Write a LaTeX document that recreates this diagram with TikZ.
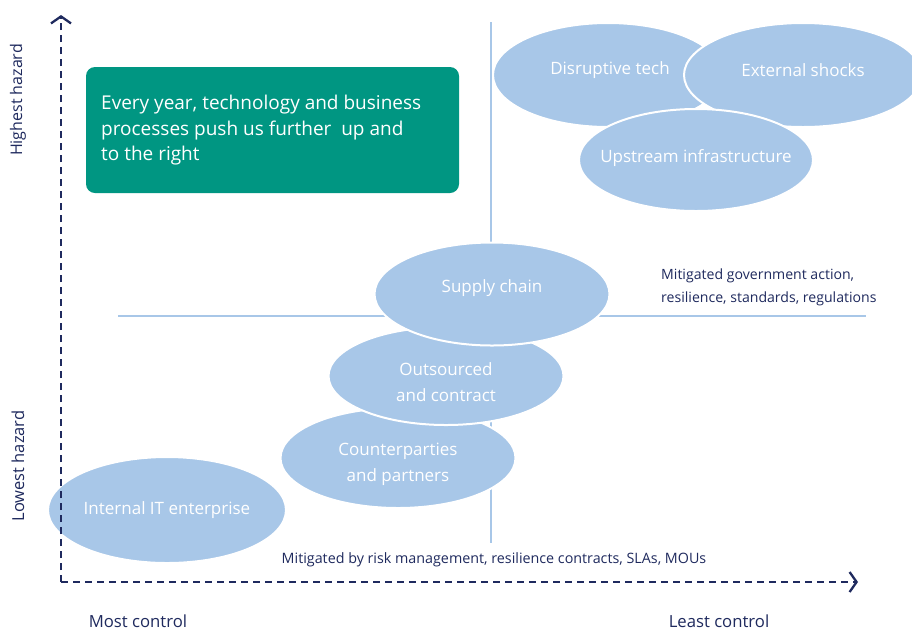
\documentclass[tikz,border=0pt]{standalone}
\usepackage{fontspec}
\setmainfont{Open Sans}
\usetikzlibrary{arrows.meta,shapes.geometric}
\definecolor{navy}{HTML}{1F2A5E}
\definecolor{lblue}{HTML}{A8C7E8}
\definecolor{teal}{HTML}{009682}
\begin{document}
\begin{tikzpicture}[x=1pt,y=-1pt,
  blob/.style={ellipse,fill=lblue,draw=white,line width=2pt,inner sep=0pt},
  btext/.style={text=white,inner sep=0pt,align=center,font=\fontsize{17}{26}\selectfont},
  axis/.style={draw=navy,line width=2.3pt,dash pattern=on 7pt off 5pt,
    -{Straight Barb[length=7pt,width=20pt,line width=2.3pt]}},
  guide/.style={draw=lblue,line width=2pt},
  lbl/.style={text=navy,inner sep=0pt},
]
\useasboundingbox[fill=white] (0,0) rectangle (912,630);
% guide lines
\coordinate (vt) at (491,22); \coordinate (vb) at (491,543);
\coordinate (hl) at (118,316); \coordinate (hr) at (866,316);
\draw[guide] (vt) -- (vb);
\draw[guide] (hl) -- (hr);
% ellipses
\node[blob,minimum width=230pt,minimum height=104pt] (dis) at (608,75) {};
\node[blob,minimum width=238pt,minimum height=104pt] (ext) at (803,75) {};
\node[blob,minimum width=234pt,minimum height=102pt] (up) at (696,160) {};
\node[btext] (dist) at (610,70) {Disruptive tech};
\node[btext] (extt) at (803,70) {External shocks};
\node[btext] (upt) at (696,158) {Upstream infrastructure};
\node[blob,minimum width=238pt,minimum height=106pt] (int) at (167,510) {};
\node[btext] (intt) at (167,510) {Internal IT enterprise};
\node[blob,minimum width=235pt,minimum height=100pt] (cp) at (398,458) {};
\node[btext] (cpt) at (398,464) {Counterparties\\and partners};
\node[blob,minimum width=235pt,minimum height=98pt] (out) at (446,376) {};
\node[btext] (outt) at (446,382) {Outsourced\\and contract};
\node[blob,minimum width=235pt,minimum height=103pt] (sc) at (492,294) {};
\node[btext] (sct) at (492,288) {Supply chain};
% green box
\node[fill=teal,rounded corners=9pt,minimum width=373pt,minimum height=126pt,inner sep=0pt] (box) at (272.5,130) {};
\node[text=white,align=left,anchor=north west,inner sep=0pt,font=\fontsize{19}{25.5}\selectfont] (boxt) at (101,95)
 {Every year, technology and business\\processes push us further\ \ up and\\to the right};
% axes
\coordinate (o) at (61,582);
\coordinate (yt) at (61,15);
\coordinate (xt) at (858,582);
\draw[axis] (o) -- (yt);
\draw[axis] (o) -- (xt);
% labels
\node[lbl,rotate=90,font=\fontsize{16}{18}\selectfont] (hh) at (18,100) {Highest hazard};
\node[lbl,rotate=90,font=\fontsize{16.5}{18}\selectfont] (lh) at (18,466) {Lowest hazard};
\node[lbl,font=\fontsize{16.7}{18}\selectfont] (mc) at (138,621) {Most control};
\node[lbl,font=\fontsize{16.7}{18}\selectfont] (lc) at (719,621) {Least control};
\node[lbl,font=\fontsize{14.3}{16}\selectfont] (m1) at (494,560) {Mitigated by risk management, resilience contracts, SLAs, MOUs};
\node[lbl,font=\fontsize{14.1}{23}\selectfont,align=left,anchor=west] (m2) at (661,287) {Mitigated government action,\\resilience, standards, regulations};
\end{tikzpicture}
\end{document}
